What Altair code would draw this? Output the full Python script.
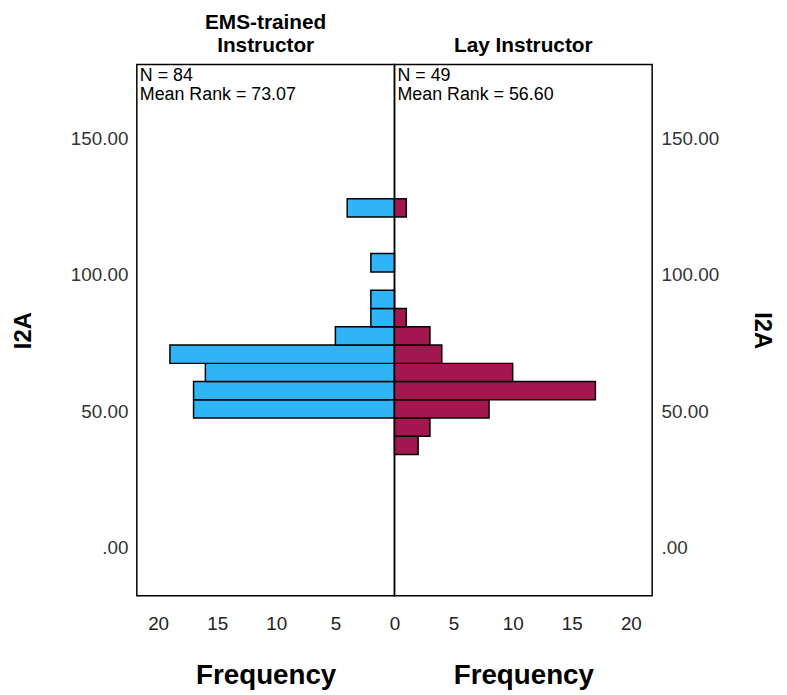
import altair as alt
import pandas as pd

# ---- data ----
bin_lo = [34.2, 40.9, 47.6, 54.3, 61.0, 67.6, 74.3, 81.0, 87.7, 94.4, 101.1, 107.8, 114.5, 121.2]
bin_hi = [40.9, 47.6, 54.3, 61.0, 67.6, 74.3, 81.0, 87.7, 94.4, 101.1, 107.8, 114.5, 121.2, 127.9]
ems_counts = [0, 0, 17, 17, 16, 19, 5, 2, 2, 0, 2, 0, 0, 4]
lay_counts = [2, 3, 8, 17, 10, 4, 3, 1, 0, 0, 0, 0, 0, 1]
group_titles = [["EMS-trained", "Instructor"], ["Lay Instructor"]]
group_n = [84, 49]
group_mean_rank = ["73.07", "56.60"]
y_ticks = [0, 50, 100, 150]
x_ticks_left = [0, 5, 10, 15, 20]
x_ticks_right = [5, 10, 15, 20]
colors = ["#30b4f8", "#a3164f"]

FONT = "Liberation Sans"
W, H = 260, 536
Y_DOMAIN = [-17.5, 177]
X_DOMAIN = [0, 21.8]

def panel(counts, idx, orient, xticks):
    df = pd.DataFrame({"lo": bin_lo, "hi": bin_hi, "count": counts})
    df = df[df["count"] > 0]
    yaxis = alt.Axis(
        orient=orient, values=y_ticks, ticks=False, domain=False, grid=False,
        labelExpr="datum.value == 0 ? '.00' : format(datum.value, '.2f')",
        labelFontSize=19, labelColor="#333333", labelFont=FONT, labelPadding=9,
        title="I2A", titleFontSize=24, titleFont=FONT, titleFontWeight="bold",
        titleColor="#000000", titleAngle=(-90 if orient == "left" else 90),
        titlePadding=(35 if orient == "left" else 31),
    )
    xaxis = alt.Axis(
        values=xticks, ticks=False, domain=False, grid=False, format="d",
        labelFlush=False,
        labelFontSize=19, labelColor="#222222", labelFont=FONT, labelPadding=19,
        title="Frequency", titleFontSize=28, titleFont=FONT, titleFontWeight="bold",
        titleColor="#000000", titlePadding=29,
    )
    bars = alt.Chart(df).mark_bar(
        color=colors[idx], stroke="#000000", strokeWidth=1.5
    ).encode(
        x=alt.X("count:Q", scale=alt.Scale(domain=X_DOMAIN, reverse=(idx == 0), nice=False, zero=True), axis=xaxis),
        x2=alt.datum(0),
        y=alt.Y("lo:Q", scale=alt.Scale(domain=Y_DOMAIN, nice=False, zero=False), axis=yaxis),
        y2="hi:Q",
    )
    note_df = pd.DataFrame({"t": [f"N = {group_n[idx]}\nMean Rank = {group_mean_rank[idx]}"]})
    note = alt.Chart(note_df).mark_text(
        align="left", baseline="alphabetic", lineBreak="\n", lineHeight=19,
        fontSize=18, font=FONT, color="#000000"
    ).encode(text="t:N", x=alt.value(3), y=alt.value(17))
    return alt.layer(bars, note).properties(
        width=W, height=H,
        title=alt.TitleParams(
            text=group_titles[idx], fontSize=21, font=FONT, fontWeight="bold",
            color="#000000", anchor="middle", offset=9, lineHeight=23,
        ),
    )

left = panel(ems_counts, 0, "left", x_ticks_left)
right = panel(lay_counts, 1, "right", x_ticks_right)

chart = alt.hconcat(left, right, spacing=0, bounds="flush").properties(
    padding={"left": 3, "top": 0, "right": 5, "bottom": 0}
).configure(background="#ffffff").configure_view(
    stroke="#000000", strokeWidth=1.5
)

chart.save("out.html", embed_options={"renderer": "svg", "actions": False})
